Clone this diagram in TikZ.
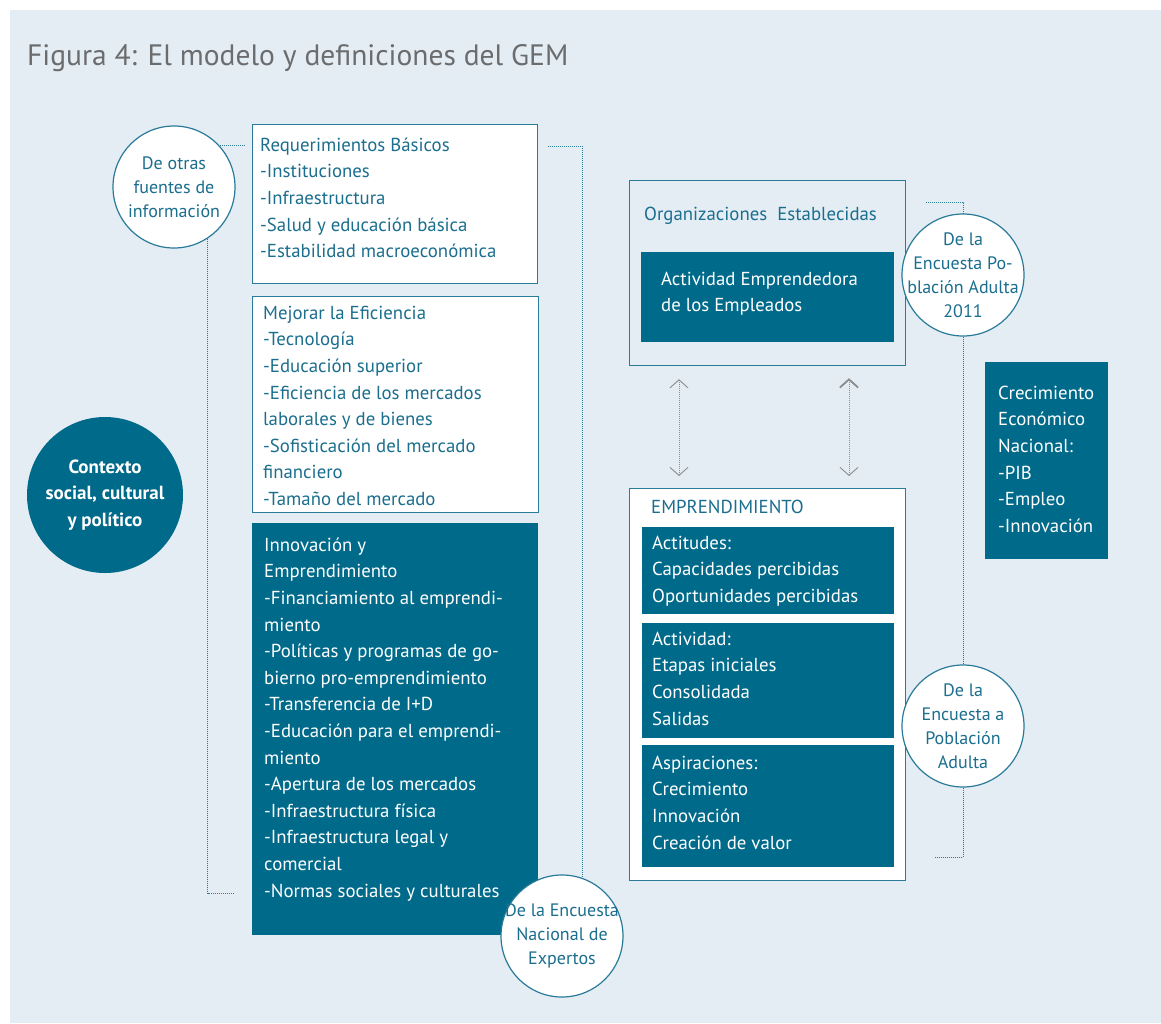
\documentclass[tikz,border=0pt]{standalone}
\usepackage{fontspec}
\setmainfont{PT Sans}
\usetikzlibrary{arrows.meta}
\definecolor{bgblue}{HTML}{E4EDF4}
\definecolor{gemteal}{HTML}{006A8A}
\definecolor{gemline}{HTML}{2A7A99}
\definecolor{gemtext}{HTML}{1B6E8E}
\definecolor{gemgray}{HTML}{6B6C6E}
\definecolor{arrgray}{HTML}{8C8C8C}
\newcommand{\bodyfont}{\fontsize{18.8}{26.6}\selectfont}
\tikzset{> = {Straight Barb[length=8pt,width=18pt]}}
\tikzset{
  wbox/.style={draw=gemline, line width=1.2pt, fill=white, anchor=north west, inner sep=0pt},
  dbox/.style={fill=gemteal, anchor=north west, inner sep=0pt},
  txt/.style={anchor=north west, inner sep=0pt, align=left, text=gemtext, font=\bodyfont},
  dtxt/.style={txt, text=white},
  src/.style={circle, draw=gemline, line width=1.2pt, fill=white, minimum size=122pt, inner sep=0pt},
  srctxt/.style={inner sep=0pt, align=center, text=gemtext, font=\fontsize{18}{24}\selectfont},
  dotline/.style={gemline, line width=0.9pt, dash pattern=on 1pt off 1pt},
}

\begin{document}
\begin{tikzpicture}[x=1pt, y=-1pt]
\useasboundingbox (0,0) rectangle (1161,1023);
\fill[bgblue] (10,10) rectangle (1161,1023);
\node[anchor=base west, inner sep=0pt, text=gemgray, font=\fontsize{29.5}{36}\selectfont] (T) at (27,65) {Figura 4: El modelo y definiciones del GEM};
% left column
\node[wbox, minimum width=285pt, minimum height=159pt] (RB) at (252,124) {};
\node[txt] (RBt) at (260,132.4) {\strut Requerimientos Básicos\\-Instituciones\\-Infraestructura\\-Salud y educación básica\\-Estabilidad macroeconómica};
\node[wbox, minimum width=286pt, minimum height=216pt] (ME) at (252,296) {};
\node[txt] (MEt) at (263,300.4) {\strut Mejorar la Eficiencia\\-Tecnología\\-Educación superior\\-Eficiencia de los mercados\\laborales y de bienes\\-Sofisticación del mercado\\financiero\\-Tamaño del mercado};
\node[dbox, minimum width=286pt, minimum height=412pt] (IE) at (252,523) {};
\node[dtxt] (IEt) at (264,532.4) {\strut Innovación y\\Emprendimiento\\-Financiamiento al emprendi-\\miento\\-Políticas y programas  de go-\\bierno pro-emprendimiento\\-Transferencia de I+D\\-Educación para el emprendi-\\miento\\-Apertura de los mercados\\-Infraestructura física\\-Infraestructura legal y\\comercial\\-Normas sociales y culturales};
% right column
\node[wbox, fill=bgblue, minimum width=276pt, minimum height=185pt] (OE) at (629,180) {};
\node[txt] (OEt) at (644,201.4) {\strut Organizaciones\ \ Establecidas};
\node[dbox, minimum width=253pt, minimum height=90pt] (AE) at (641,252) {};
\node[dtxt] (AEt) at (661,266.4) {\strut Actividad Emprendedora\\de los Empleados};
\node[wbox, minimum width=276pt, minimum height=392pt] (EM) at (629,488) {};
\node[txt] (EMt) at (651,494.4) {\strut EMPRENDIMIENTO};
\node[dbox, minimum width=252pt, minimum height=87pt] (AC) at (642,527) {};
\node[dtxt] (ACt) at (652,530.4) {\strut Actitudes:\\Capacidades percibidas\\Oportunidades percibidas};
\node[dbox, minimum width=252pt, minimum height=115pt] (AV) at (642,623) {};
\node[dtxt] (AVt) at (652,626.4) {\strut Actividad:\\Etapas iniciales\\Consolidada\\Salidas};
\node[dbox, minimum width=252pt, minimum height=122pt] (AS) at (642,745) {};
\node[dtxt] (ASt) at (652,750.4) {\strut Aspiraciones:\\Crecimiento\\Innovación\\Creación de valor};
\node[dbox, minimum width=123pt, minimum height=197pt] (CE) at (985,362) {};
\node[dtxt] (CEt) at (998,380.4) {\strut Crecimiento\\Económico\\Nacional:\\-PIB\\-Empleo\\-Innovación};
% circles
\node[circle, fill=gemteal, minimum size=156pt, inner sep=0pt,
  label={[inner sep=0pt, align=center, text=white, font=\fontsize{19}{26.5}\selectfont\bfseries]center:{Contexto\\social, cultural\\y político}}] (CX) at (105,495) {};
\node[src, label={[srctxt]center:{De otras\\fuentes de\\información}}] (S1) at (174,187) {};
\node[src, label={[srctxt]center:{De la Encuesta\\Nacional de\\Expertos}}] (S2) at (562,936) {};
\node[src, label={[srctxt]center:{De la\\Encuesta Po-\\blación Adulta\\2011}}] (S3) at (963,275) {};
\node[src, label={[srctxt]center:{De la\\Encuesta a\\Población\\Adulta}}] (S4) at (963,726) {};
% edges
\coordinate (L1) at (234,893);
\coordinate (R1) at (548,146);
\coordinate (P1) at (926,202);
\coordinate (P2) at (935,857);
\coordinate (A1) at (679,0);
\coordinate (A2) at (849,0);
\draw[dotline, shorten >=7pt] (S1.42) -- (S1.42 -| RB.west);
\draw[dotline] (S1.-57) |- (L1);
\draw[dotline] (R1) -| (S2.71);
\draw[dotline] (P1) -| (S3.north);
\draw[dotline] (S3.south) -- (S4.north);
\draw[dotline] (S4.south) |- (P2);
\draw[<->, arrgray, line width=0.9pt, dash pattern=on 1pt off 1pt, shorten <=13pt, shorten >=12pt]
(OE.south -| A1) edge (EM.north -| A1)
(OE.south -| A2) edge (EM.north -| A2);
\end{tikzpicture}
\end{document}
